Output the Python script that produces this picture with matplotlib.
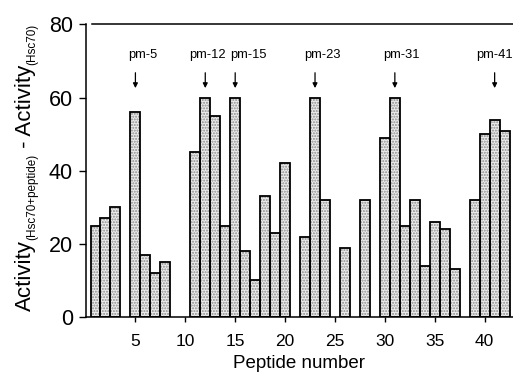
import numpy as np
import matplotlib.pyplot as plt
from matplotlib.transforms import IdentityTransform

plt.rcParams['font.family'] = ['Liberation Sans', 'DejaVu Sans']

# peptide number -> activity difference (0 = no bar)
peptides = np.arange(1, 43)
activity = [25, 27, 30, 0, 56, 17, 12, 15, 0, 0,
            45, 60, 55, 25, 60, 18, 10, 33, 23, 42,
            0, 22, 60, 32, 0, 19, 0, 32, 0, 49,
            60, 25, 32, 14, 26, 24, 13, 0, 32, 50,
            54, 51]

# marked peptides and where their labels sit
marked = [5, 12, 15, 23, 31, 41]
label_x = [5.7, 12.2, 16.3, 23.7, 31.7, 41.0]
labels = ['pm-5', 'pm-12', 'pm-15', 'pm-23', 'pm-31', 'pm-41']

# y label pieces: (text, fontsize, is_subscript)
ylab_parts = [('Activity', 16, False), ('(Hsc70+peptide)', 8.4, True),
              (' - Activity', 16, False), ('(Hsc70)', 8.4, True)]

fig = plt.figure(figsize=(5.13, 3.79), dpi=100)
ax = fig.add_axes([0.1667, 0.1636, 1 - 0.1667, 0.9354 - 0.1636])

act = np.array(activity)
keep = act > 0
# stippled fill first, then the black outlines on top
ax.bar(peptides[keep], act[keep], width=1.0, color='#ececec',
       edgecolor='#8a8a8a', hatch='......', linewidth=0)
ax.bar(peptides[keep], act[keep], width=1.0, fill=False,
       edgecolor='black', linewidth=1.3)

for p, lx, lab in zip(marked, label_x, labels):
    ax.text(lx, 71.6, lab, ha='center', va='center', fontsize=9.3)
    ax.annotate('', xy=(p, 62.6), xytext=(p, 66.8),
                arrowprops=dict(arrowstyle='-|>', color='black', lw=0.9,
                                mutation_scale=7, shrinkA=0, shrinkB=0))

ax.set_xlim(0, 42.84)
ax.set_ylim(0, 80)
ax.set_xticks([5, 10, 15, 20, 25, 30, 35, 40])
ax.set_yticks([0, 20, 40, 60, 80])
ax.tick_params(axis='x', labelsize=12.5, length=3.5, width=1, direction='out', pad=9)
ax.tick_params(axis='y', labelsize=15.5, length=5, width=1, direction='out', pad=4)

ax.spines['right'].set_visible(False)
ax.spines['top'].set_bounds(0.6, 42.84)
for s in ['left', 'bottom', 'top']:
    ax.spines[s].set_linewidth(1.1)

ax.set_xlabel('Peptide number', fontsize=13.5, labelpad=4)

# rotated y label built piece by piece so subscripts can be small
renderer = fig.canvas.get_renderer()
base_x = 31.0
y = 379 - 311.0
for txt, fs, sub in ylab_parts:
    t = fig.text(base_x + (4.0 if sub else 0.0), y, txt, fontsize=fs,
                 rotation=90, rotation_mode='anchor', ha='left', va='baseline',
                 transform=IdentityTransform())
    y += t.get_window_extent(renderer).height

fig.savefig('out.png', dpi=100)
